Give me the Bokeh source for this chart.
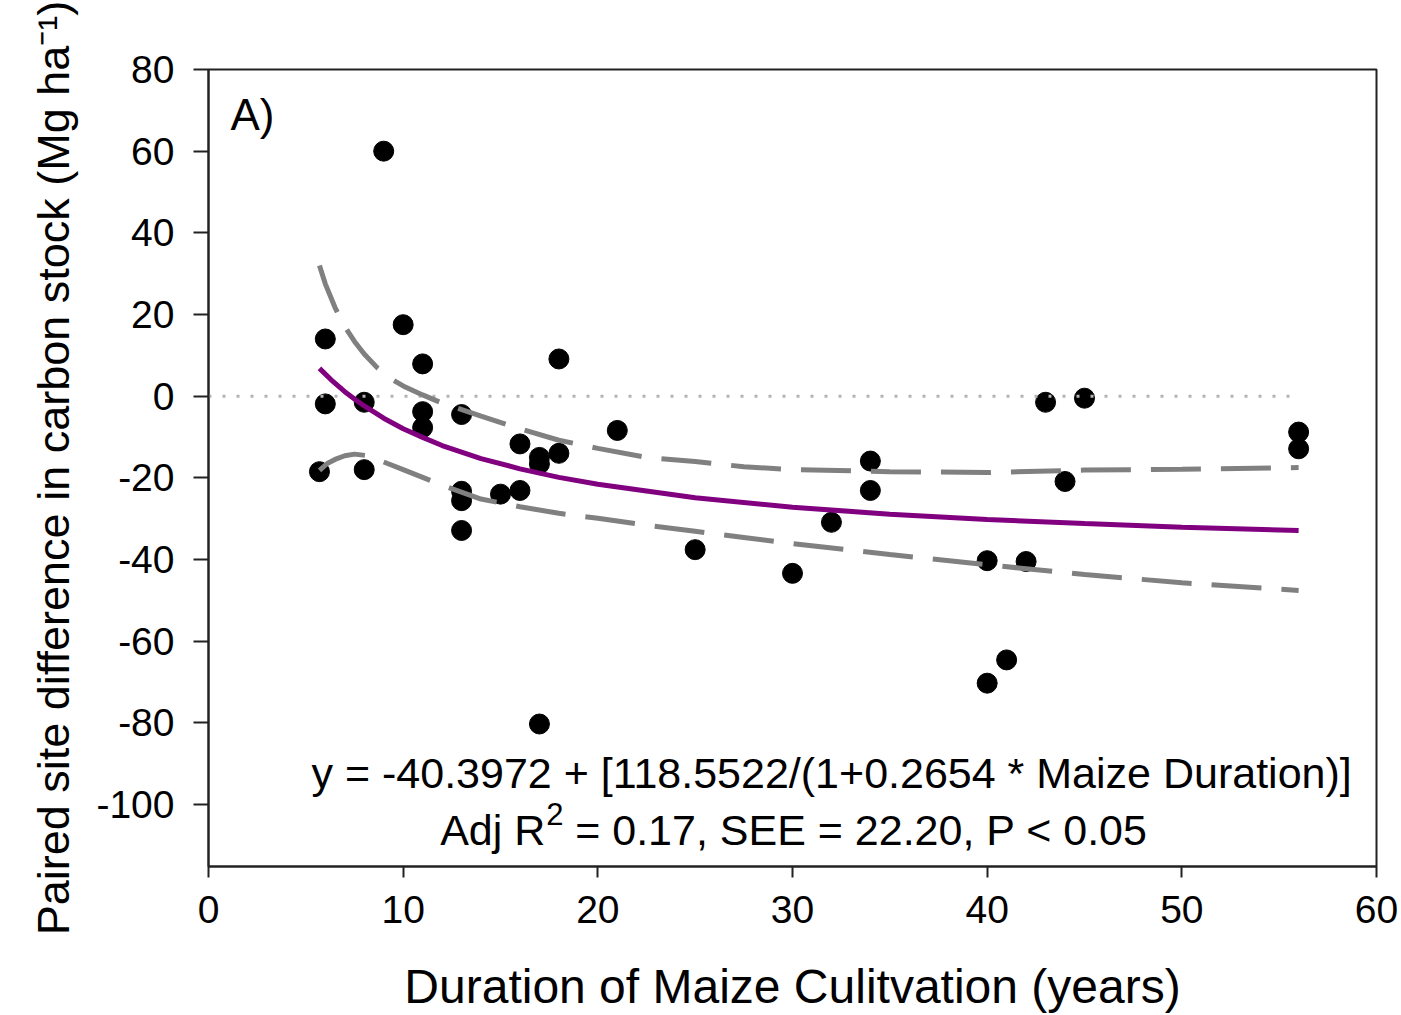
from bokeh.plotting import figure
from bokeh.models import Label, FixedTicker, Range1d
from bokeh.embed import file_html
from bokeh.resources import INLINE

# Observed data points (years of maize cultivation, carbon stock difference)
duration = [5.7, 6, 6, 8, 8, 9, 10, 11, 11, 11, 13, 13, 13, 13, 15, 16, 16, 17, 17, 17,
            18, 18, 21, 25, 30, 32, 34, 34, 40, 40, 41, 42, 43, 44, 45, 56, 56]
carbon_diff = [-18.5, 14.0, -1.9, -1.5, -18.0, 60.0, 17.5, 7.9, -3.8, -7.7, -4.5, -23.3, -25.6,
               -32.9, -24.0, -11.7, -23.1, -15.0, -16.6, -80.3, 9.1, -14.0, -8.4, -37.6, -43.4,
               -30.9, -15.9, -23.1, -40.3, -70.3, -64.6, -40.5, -1.5, -20.9, -0.5, -8.8, -12.9]

# Fitted hyperbolic curve
fit_x = [5.7, 6.3, 7, 7.5, 8, 9, 10, 11, 12, 14, 16, 18, 20, 25, 30, 35, 40, 45, 50, 56]
fit_y = [6.8, 4.0, 1.1, -0.7, -2.4, -5.4, -8.0, -10.1, -12.1, -15.3, -17.8, -19.9, -21.6,
         -24.9, -27.2, -28.9, -30.2, -31.2, -32.1, -32.9]

# Confidence bands
upper_x = [5.7, 6.0, 6.5, 7.0, 7.5, 8.0, 8.7, 9.5, 10, 11, 12, 14, 16, 18, 20, 22.5, 25, 27.5,
           30, 35, 40, 45, 50, 56]
upper_y = [32.0, 27.5, 21.7, 17.0, 13.4, 10.3, 6.8, 3.9, 2.5, 0.3, -1.7, -4.9, -8.0, -10.8,
           -12.8, -15.0, -16.0, -17.3, -18.0, -18.5, -18.7, -18.1, -17.9, -17.5]
lower_x = [5.7, 6.1, 6.5, 7.0, 7.5, 8.2, 9.2, 10, 12, 14, 16, 18, 20, 22.5, 25, 27.5, 30, 35,
           40, 45, 50, 56]
lower_y = [-18.2, -16.5, -15.5, -14.6, -14.2, -14.6, -16.5, -18.0, -21.8, -25.2, -27.1, -28.7,
           -29.9, -31.6, -33.1, -34.6, -36.1, -38.8, -41.3, -43.7, -45.7, -47.6]

zero_x = [0, 56]
zero_y = [0, 0]

x_ticks = [0, 10, 20, 30, 40, 50, 60]
y_ticks = [-100, -80, -60, -40, -20, 0, 20, 40, 60, 80]

FONT = "Liberation Sans"

p = figure(width=1401, height=1015, output_backend="svg", toolbar_location=None,
           x_range=Range1d(0, 60), y_range=Range1d(-115.2, 80),
           min_border_left=208, min_border_right=25, min_border_top=69, min_border_bottom=149)
p.grid.visible = False
p.outline_line_color = "#222222"
p.outline_line_width = 2
p.background_fill_color = "white"
p.border_fill_color = "white"

for ax in (p.xaxis[0], p.yaxis[0]):
    ax.axis_line_color = "#222222"
    ax.axis_line_width = 2
    ax.major_tick_line_color = "#222222"
    ax.major_tick_line_width = 2
    ax.major_tick_in = 0
    ax.minor_tick_line_color = None
    ax.major_label_text_font = FONT
    ax.major_label_text_font_size = "39px"
    ax.major_label_text_color = "black"
    ax.axis_label_text_font = FONT
    ax.axis_label_text_font_style = "normal"
    ax.axis_label_text_color = "black"

p.xaxis.ticker = FixedTicker(ticks=x_ticks)
p.yaxis.ticker = FixedTicker(ticks=y_ticks)
p.yaxis.major_label_overrides = {t: str(t) for t in y_ticks}
p.xaxis.major_label_overrides = {t: str(t) for t in x_ticks}
p.xaxis.major_tick_out = 11
p.yaxis.major_tick_out = 15
p.xaxis.major_label_standoff = 18
p.yaxis.major_label_standoff = 19
p.xaxis.axis_label = "Duration of Maize Culitvation (years)"
p.xaxis.axis_label_text_font_size = "48px"
p.xaxis.axis_label_standoff = 34
p.yaxis.axis_label = "Paired site difference in carbon stock (Mg ha\u207b\u00b9)"
p.yaxis.axis_label_text_font_size = "45px"
p.yaxis.axis_label_standoff = 14

# points
p.scatter(duration, carbon_diff, size=20, marker="circle", fill_color="black", line_color="black")
# zero reference line
p.line(zero_x, zero_y, line_color="#b4b4b4", line_width=3, line_dash="3 11")
# confidence bands
p.line(upper_x, upper_y, line_color="#808080", line_width=5, line_dash="50 20")
p.line(lower_x, lower_y, line_color="#808080", line_width=5, line_dash="50 20")
# fit
p.line(fit_x, fit_y, line_color="#800080", line_width=5)

p.add_layout(Label(x=1.13, y=69.0, text="A)", text_font=FONT, text_font_size="44px",
                   text_color="black", text_baseline="alphabetic"))

p.add_layout(Label(x=5.29, y=-92.2, text="y = -40.3972 + [118.5522/(1+0.2654 * Maize Duration)]",
                   text_font=FONT, text_font_size="43px", text_color="black",
                   text_baseline="alphabetic", text_align="left"))
p.add_layout(Label(x=11.9, y=-106.15, text="Adj R", text_font=FONT, text_font_size="43px",
                   text_color="black", text_baseline="alphabetic", text_align="left"))
p.add_layout(Label(x=11.9, y=-106.15, x_offset=106, y_offset=16, text="2", text_font=FONT,
                   text_font_size="31px", text_color="black", text_baseline="alphabetic",
                   text_align="left"))
p.add_layout(Label(x=11.9, y=-106.15, x_offset=135, text="= 0.17, SEE = 22.20, P < 0.05",
                   text_font=FONT, text_font_size="43px", text_color="black",
                   text_baseline="alphabetic", text_align="left"))

open("out.html", "w").write(file_html(p, INLINE))
